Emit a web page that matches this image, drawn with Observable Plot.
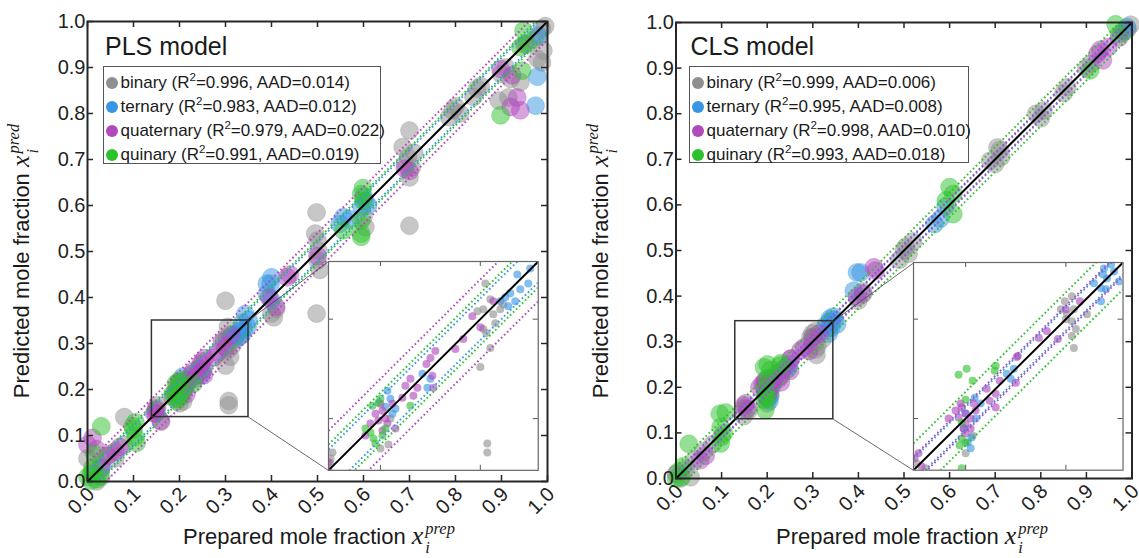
<!DOCTYPE html>
<html><head><meta charset="utf-8">
<script src="https://cdn.jsdelivr.net/npm/d3@7"></script>
<script src="https://cdn.jsdelivr.net/npm/@observablehq/plot@0.6"></script>
<style>
body{margin:0;background:#fff;}
#wrap{position:relative;width:1139px;height:558px;overflow:hidden;font-family:"Liberation Sans",Arial,sans-serif;color:#1a1a1a;}
#wrap svg{position:absolute;overflow:visible;}
.title{position:absolute;font-size:25px;line-height:25px;white-space:nowrap;}
.legend{position:absolute;border:1px solid #555;background:#fff;box-sizing:border-box;padding-top:4px;}
.row{display:flex;align-items:center;height:24px;font-size:17px;white-space:nowrap;}
.mk{width:12.5px;height:12.5px;border-radius:50%;margin-left:1.5px;margin-right:2.5px;flex:none;}
.row sup{font-size:0.68em;line-height:0;vertical-align:baseline;position:relative;top:-0.5em;}
.atitle{position:absolute;font-size:22px;line-height:26px;white-space:nowrap;}
.mx{font-family:"Liberation Serif","DejaVu Serif",serif;font-style:italic;font-size:26px;}
.st{display:inline-flex;flex-direction:column;font-family:"Liberation Serif","DejaVu Serif",serif;font-style:italic;font-size:16.5px;line-height:19px;position:relative;top:-10px;margin-left:2px;}
</style></head>
<body><div id="wrap"></div>
<script>
// ---------- data ----------
const tickValues = [0,0.1,0.2,0.3,0.4,0.5,0.6,0.7,0.8,0.9,1.0];
const tickLabels = ["0.0","0.1","0.2","0.3","0.4","0.5","0.6","0.7","0.8","0.9","1.0"];
const insetTicks = [0.2,0.3];
const seriesNames = ["binary","ternary","quaternary","quinary"];
const seriesColors = ["#8f8f8f","#3896e3","#b049bb","#2ec12e"];
const plsR2 = ["0.996","0.983","0.979","0.991"];
const plsAAD = ["0.014","0.012","0.022","0.019"];
const clsR2 = ["0.999","0.995","0.998","0.993"];
const clsAAD = ["0.006","0.008","0.010","0.018"];
// half widths of the dotted bands (0 = not drawn)
const plsBand = [0, 0.021, 0.04, 0.026];
const clsBand = [0, 0.0115, 0.0135, 0.027];

const plsBinary = [[0.0,0.05],[0.01,0.02],[0.02,0.0],[0.03,0.01],[0.03,0.04],[0.05,0.06],[0.06,0.05],[0.08,0.14],[0.08,0.08],[0.15,0.16],[0.152,0.166],[0.15,0.155],[0.16,0.13],[0.208,0.174],[0.2,0.17],[0.21,0.2],[0.305,0.336],[0.303,0.31],[0.313,0.305],[0.303,0.29],[0.306,0.286],[0.31,0.271],[0.297,0.308],[0.315,0.296],[0.323,0.315],[0.32,0.31],[0.31,0.32],[0.307,0.175],[0.307,0.166],[0.3,0.393],[0.3,0.252],[0.4,0.365],[0.405,0.357],[0.41,0.375],[0.498,0.365],[0.498,0.585],[0.5,0.524],[0.502,0.502],[0.5,0.48],[0.495,0.539],[0.505,0.46],[0.604,0.553],[0.6,0.575],[0.7,0.763],[0.7,0.556],[0.685,0.727],[0.697,0.705],[0.705,0.683],[0.7,0.661],[0.71,0.715],[0.69,0.69],[0.794,0.807],[0.786,0.792],[0.8,0.815],[0.81,0.8],[0.847,0.854],[0.839,0.836],[0.855,0.86],[0.899,0.886],[0.894,0.828],[0.915,0.835],[0.941,0.868],[0.91,0.9],[0.92,0.875],[0.988,0.984],[0.981,0.966],[0.991,0.937],[0.988,0.911],[0.978,0.919],[0.995,0.99],[0.97,0.96]];
const plsTernary = [[0.03,0.03],[0.207,0.228],[0.212,0.205],[0.215,0.21],[0.21,0.22],[0.205,0.212],[0.242,0.245],[0.247,0.231],[0.25,0.24],[0.337,0.345],[0.35,0.351],[0.348,0.336],[0.33,0.326],[0.325,0.322],[0.335,0.318],[0.34,0.33],[0.328,0.313],[0.32,0.318],[0.343,0.364],[0.398,0.43],[0.39,0.408],[0.4,0.394],[0.39,0.43],[0.4,0.444],[0.556,0.575],[0.548,0.56],[0.57,0.57],[0.604,0.61],[0.596,0.596],[0.6,0.62],[0.61,0.6],[0.978,0.88],[0.974,0.817],[0.98,0.97]];
const plsQuaternary = [[0.0,0.08],[0.011,0.095],[0.02,0.07],[0.043,0.056],[0.03,0.03],[0.06,0.065],[0.07,0.075],[0.148,0.148],[0.159,0.132],[0.148,0.156],[0.145,0.148],[0.185,0.183],[0.202,0.188],[0.207,0.195],[0.198,0.198],[0.202,0.208],[0.195,0.205],[0.205,0.2],[0.19,0.195],[0.215,0.19],[0.2,0.215],[0.212,0.215],[0.222,0.221],[0.225,0.233],[0.23,0.24],[0.233,0.223],[0.237,0.231],[0.252,0.243],[0.253,0.231],[0.25,0.261],[0.255,0.268],[0.246,0.255],[0.283,0.28],[0.292,0.303],[0.313,0.318],[0.275,0.27],[0.3,0.292],[0.395,0.4],[0.41,0.38],[0.434,0.444],[0.44,0.45],[0.5,0.49],[0.69,0.68],[0.7,0.675],[0.898,0.897],[0.923,0.883],[0.92,0.814],[0.941,0.807],[0.934,0.835],[0.95,0.95]];
const plsQuinary = [[0.008,0.017],[0.011,0.03],[0.027,0.011],[0.015,0.06],[0.03,0.12],[0.008,0.002],[0.02,0.005],[0.0,0.01],[0.104,0.129],[0.104,0.097],[0.107,0.084],[0.1,0.113],[0.098,0.12],[0.198,0.216],[0.192,0.213],[0.202,0.183],[0.19,0.186],[0.193,0.18],[0.195,0.175],[0.205,0.19],[0.185,0.19],[0.2,0.22],[0.23,0.213],[0.595,0.625],[0.599,0.638],[0.6,0.61],[0.595,0.567],[0.595,0.539],[0.556,0.546],[0.595,0.532],[0.898,0.796],[0.948,0.98],[0.956,0.951],[0.941,0.944],[0.945,0.893]];

const clsBinary = [[0.032,0.003],[0.01,0.0],[0.02,0.02],[0.04,0.04],[0.06,0.06],[0.08,0.075],[0.149,0.137],[0.151,0.155],[0.16,0.15],[0.207,0.183],[0.2,0.165],[0.306,0.323],[0.308,0.31],[0.301,0.305],[0.306,0.298],[0.306,0.283],[0.308,0.271],[0.321,0.305],[0.295,0.31],[0.299,0.318],[0.3,0.3],[0.31,0.29],[0.4,0.39],[0.41,0.41],[0.5,0.5],[0.51,0.493],[0.504,0.508],[0.49,0.48],[0.52,0.52],[0.705,0.726],[0.689,0.697],[0.713,0.705],[0.7,0.69],[0.71,0.72],[0.806,0.807],[0.79,0.8],[0.8,0.79],[0.858,0.858],[0.85,0.845],[0.9,0.9],[0.91,0.91],[0.997,0.995],[0.99,0.985],[0.985,0.98]];
const clsTernary = [[0.2,0.205],[0.209,0.221],[0.206,0.181],[0.202,0.176],[0.215,0.215],[0.198,0.19],[0.205,0.17],[0.21,0.2],[0.241,0.245],[0.248,0.25],[0.245,0.24],[0.335,0.331],[0.341,0.341],[0.348,0.348],[0.335,0.318],[0.353,0.338],[0.338,0.351],[0.328,0.336],[0.337,0.345],[0.34,0.33],[0.345,0.355],[0.397,0.452],[0.39,0.412],[0.405,0.452],[0.567,0.558],[0.591,0.596],[0.58,0.57],[0.989,0.99],[0.98,0.98]];
const clsQuaternary = [[0.0,0.01],[0.053,0.04],[0.065,0.05],[0.153,0.165],[0.149,0.16],[0.156,0.152],[0.196,0.211],[0.2,0.205],[0.193,0.201],[0.2,0.195],[0.183,0.2],[0.205,0.2],[0.21,0.208],[0.198,0.19],[0.195,0.215],[0.205,0.19],[0.2,0.185],[0.19,0.208],[0.208,0.215],[0.221,0.23],[0.23,0.225],[0.224,0.218],[0.23,0.211],[0.234,0.238],[0.252,0.263],[0.25,0.236],[0.251,0.262],[0.273,0.281],[0.281,0.288],[0.292,0.28],[0.3,0.31],[0.314,0.318],[0.397,0.398],[0.41,0.405],[0.438,0.456],[0.434,0.463],[0.924,0.931],[0.948,0.946],[0.972,0.967],[0.936,0.917],[0.93,0.94]];
const clsQuinary = [[0.012,0.003],[0.016,0.027],[0.005,0.015],[0.028,0.076],[0.0,0.0],[0.098,0.113],[0.1,0.091],[0.098,0.077],[0.096,0.142],[0.109,0.145],[0.105,0.1],[0.193,0.244],[0.207,0.238],[0.229,0.248],[0.2,0.219],[0.196,0.196],[0.196,0.18],[0.2,0.176],[0.201,0.25],[0.23,0.253],[0.194,0.173],[0.196,0.15],[0.6,0.639],[0.608,0.624],[0.608,0.58],[0.592,0.61],[0.908,0.895],[0.972,0.974],[0.964,0.996]];

// ---------- layout ----------
const panels = [
  {model:"PLS model", series:[plsBinary,plsTernary,plsQuaternary,plsQuinary], r2:plsR2, aad:plsAAD, band:plsBand,
   left:0, width:560, ml:87, mr:13, mt:21, mb:77, box:[0.14,0.35], insetAt:[0.524,0.024,0.98,0.478], insetDomain:[0.148,0.358],
   legend:{left:103, top:66, width:278, height:98}, titleLeft:105, ylabX:29.5, xlabX:319},
  {model:"CLS model", series:[clsBinary,clsTernary,clsQuaternary,clsQuinary], r2:clsR2, aad:clsAAD, band:clsBand,
   left:570, width:569, ml:105.5, mr:7.5, mt:22, mb:80, box:[0.13,0.345], insetAt:[0.5215,0.0175,0.981,0.473], insetDomain:[0.148,0.357],
   legend:{left:689, top:66, width:280, height:97}, titleLeft:690.5, ylabX:608.5, xlabX:912}
];
const H = 558;
const wrap = document.getElementById("wrap");
const color = {domain: seriesNames, range: seriesColors};
const dotted = {strokeWidth: 2, strokeDasharray: "1.6,2.6"};

function rowsOf(series){ return series.flatMap((arr,i)=>arr.map(([x,y])=>({x, y, s: seriesNames[i]}))); }
function bandsOf(band){ return band.flatMap((h,i)=> h ? [{s:seriesNames[i], o:h},{s:seriesNames[i], o:-h}] : []); }
function mathX(sup){ return `<span class="mx">x</span><span class="st"><span>${sup}</span><span>i</span></span>`; }

for (const p of panels) {
  const data = rowsOf(p.series);
  const bands = bandsOf(p.band);
  const W = p.width - p.ml - p.mr, PH = H - p.mt - p.mb;
  const [b0,b1] = p.box, ins = p.insetAt;
  const main = Plot.plot({
    width: p.width, height: H, marginLeft: p.ml, marginRight: p.mr, marginTop: p.mt, marginBottom: p.mb,
    x: {domain: [0,1], axis: null}, y: {domain: [0,1], axis: null}, color,
    style: {fontFamily: '"Liberation Sans", Arial, sans-serif', background: "transparent", color: "#1a1a1a"},
    marks: [
      Plot.dot(data, {x: "x", y: "y", r: 9, fill: "s", fillOpacity: 0.5, stroke: "s", strokeOpacity: 0.3, strokeWidth: 1}),
      Plot.link(bands, {x1: 0, x2: 1, y1: d => d.o, y2: d => 1 + d.o, stroke: "s", ...dotted, clip: true}),
      Plot.link([null], {x1: 0, y1: 0, x2: 1, y2: 1, stroke: "#000", strokeWidth: 2}),
      Plot.rect([p.box], {x1: d => d[0], x2: d => d[1], y1: d => d[0], y2: d => d[1], fill: "none", stroke: "#333", strokeWidth: 1.5}),
      Plot.link([[b1,b0,ins[0],ins[1]],[b1,b1,ins[0],ins[3]]], {x1: d=>d[0], y1: d=>d[1], x2: d=>d[2], y2: d=>d[3], stroke: "#444", strokeWidth: 0.8}),
      Plot.frame({stroke: "#262626", strokeWidth: 2}),
      Plot.tickY(tickValues, {y: d => d, insetRight: W - 6, stroke: "#262626", strokeWidth: 1.5}),
      Plot.tickY(tickValues, {y: d => d, insetLeft: W - 6, stroke: "#262626", strokeWidth: 1.5}),
      Plot.tickX(tickValues, {x: d => d, insetTop: PH - 6, stroke: "#262626", strokeWidth: 1.5}),
      Plot.tickX(tickValues, {x: d => d, insetBottom: PH - 6, stroke: "#262626", strokeWidth: 1.5}),
      Plot.text(tickValues, {y: d => d, text: (d,i) => tickLabels[i], frameAnchor: "left", textAnchor: "end", dx: -2, fontSize: 20, fill: "#222"}),
      Plot.text(tickValues, {x: d => d, text: (d,i) => tickLabels[i], frameAnchor: "bottom", textAnchor: "end", rotate: -45, dx: 8, dy: 14, fontSize: 20, fill: "#222"})
    ]
  });
  main.style.left = p.left + "px"; main.style.top = "0px";
  wrap.appendChild(main);

  // inset, placed through the main plot's scales
  const sx = main.scale("x"), sy = main.scale("y");
  const X0 = sx.apply(ins[0]), X1 = sx.apply(ins[2]), Y0 = sy.apply(ins[3]), Y1 = sy.apply(ins[1]);
  const iw = X1 - X0, ih = Y1 - Y0;
  const inset = Plot.plot({
    width: iw + 2, height: ih + 2, margin: 1,
    x: {domain: p.insetDomain, axis: null}, y: {domain: p.insetDomain, axis: null}, color,
    style: {background: "transparent"},
    marks: [
      Plot.frame({fill: "white", stroke: "none"}),
      Plot.dot(data, {x: "x", y: "y", r: 4, fill: "s", fillOpacity: 0.62, clip: true}),
      Plot.link(bands, {x1: p.insetDomain[0], x2: p.insetDomain[1], y1: d => p.insetDomain[0] + d.o, y2: d => p.insetDomain[1] + d.o, stroke: "s", ...dotted, clip: true}),
      Plot.link([null], {x1: p.insetDomain[0], y1: p.insetDomain[0], x2: p.insetDomain[1], y2: p.insetDomain[1], stroke: "#000", strokeWidth: 2, clip: true}),
      Plot.tickY(insetTicks, {y: d => d, insetRight: iw - 5, stroke: "#555"}),
      Plot.tickY(insetTicks, {y: d => d, insetLeft: iw - 5, stroke: "#555"}),
      Plot.tickX(insetTicks, {x: d => d, insetTop: ih - 5, stroke: "#555"}),
      Plot.tickX(insetTicks, {x: d => d, insetBottom: ih - 5, stroke: "#555"}),
      Plot.frame({stroke: "#666", strokeWidth: 1.2})
    ]
  });
  inset.style.left = (p.left + X0 - 1) + "px"; inset.style.top = (Y0 - 1) + "px";
  wrap.appendChild(inset);

  // model title
  const t = document.createElement("div");
  t.className = "title"; t.textContent = p.model;
  t.style.left = p.titleLeft + "px"; t.style.top = "34px";
  wrap.appendChild(t);

  // legend
  const lg = document.createElement("div");
  lg.className = "legend";
  Object.assign(lg.style, {left: p.legend.left + "px", top: p.legend.top + "px", width: p.legend.width + "px", height: p.legend.height + "px"});
  seriesNames.forEach((s,i) => {
    const r = document.createElement("div"); r.className = "row";
    r.innerHTML = `<span class="mk" style="background:${seriesColors[i]}"></span>${s} (R<sup>2</sup>=${p.r2[i]}, AAD=${p.aad[i]})`;
    lg.appendChild(r);
  });
  wrap.appendChild(lg);

  // axis titles
  const xl = document.createElement("div");
  xl.className = "atitle";
  xl.innerHTML = `Prepared mole fraction ${mathX("prep")}`;
  xl.style.left = p.xlabX + "px"; xl.style.top = "523px"; xl.style.transform = "translateX(-50%)";
  wrap.appendChild(xl);

  const yl = document.createElement("div");
  yl.className = "atitle";
  yl.innerHTML = `Predicted mole fraction ${mathX("pred")}`;
  yl.style.left = p.ylabX + "px"; yl.style.top = "261px"; yl.style.transform = "translate(-50%,-50%) rotate(-90deg)";
  wrap.appendChild(yl);
}
</script>
</body></html>
